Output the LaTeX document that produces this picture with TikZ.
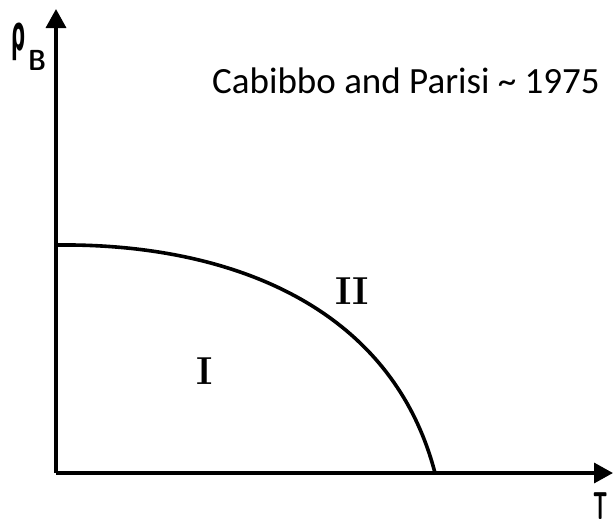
\documentclass[tikz,border=0pt]{standalone}
\usepackage{fontspec}
\usepackage{graphicx}
\newfontfamily\notefont{Carlito}
\newfontfamily\greekfont{DejaVu Sans}
\usepackage{tikz}
\usetikzlibrary{arrows.meta,positioning,calc}

\begin{document}
\begin{tikzpicture}[
x=1pt,
y=-1pt,
every node/.style={inner sep=0pt},
axis/.style={line width=3.4pt,-{Triangle[length=19pt,width=20pt]}},
boundary/.style={line width=3.6pt},
region/.style={font=\fontsize{39}{40}\selectfont\bfseries},
axlabel/.style={font=\fontsize{39}{40}\sffamily\bfseries\selectfont},
note/.style={font=\fontsize{37}{40}\selectfont\notefont}
]
\useasboundingbox (0,0) rectangle (613,525);
\coordinate (origin) at (56,473);
\coordinate (ytip) at (56,9);
\coordinate (xtip) at (613,473);
\coordinate (ystart) at (56,245);
\coordinate (xend) at (435,473);

\draw[axis] (origin) -- (ytip);
\draw[axis] (origin) -- (xtip);
\draw[boundary] (ystart) .. controls (220,243) and (390,300) .. (xend);

\node[anchor=base west] (rhob) at (11,50) {\scalebox{0.4}[1]{\fontsize{49}{49}\greekfont\bfseries\selectfont ρ}\hspace{3pt}\raisebox{-20pt}{\scalebox{0.85}[1]{\fontsize{29}{29}\sffamily\bfseries\selectfont B}}};
\node[axlabel] (tlabel) at (601,506) {\scalebox{0.5}[1]{T}};
\node[note,anchor=base west] (cite) at (212,93) {Cabibbo and Parisi \char`~{} 1975};
\node[region] (regionone) at (205,371) {I};
\node[region] (regiontwo) at (352,291) {II};
\end{tikzpicture}
\end{document}
